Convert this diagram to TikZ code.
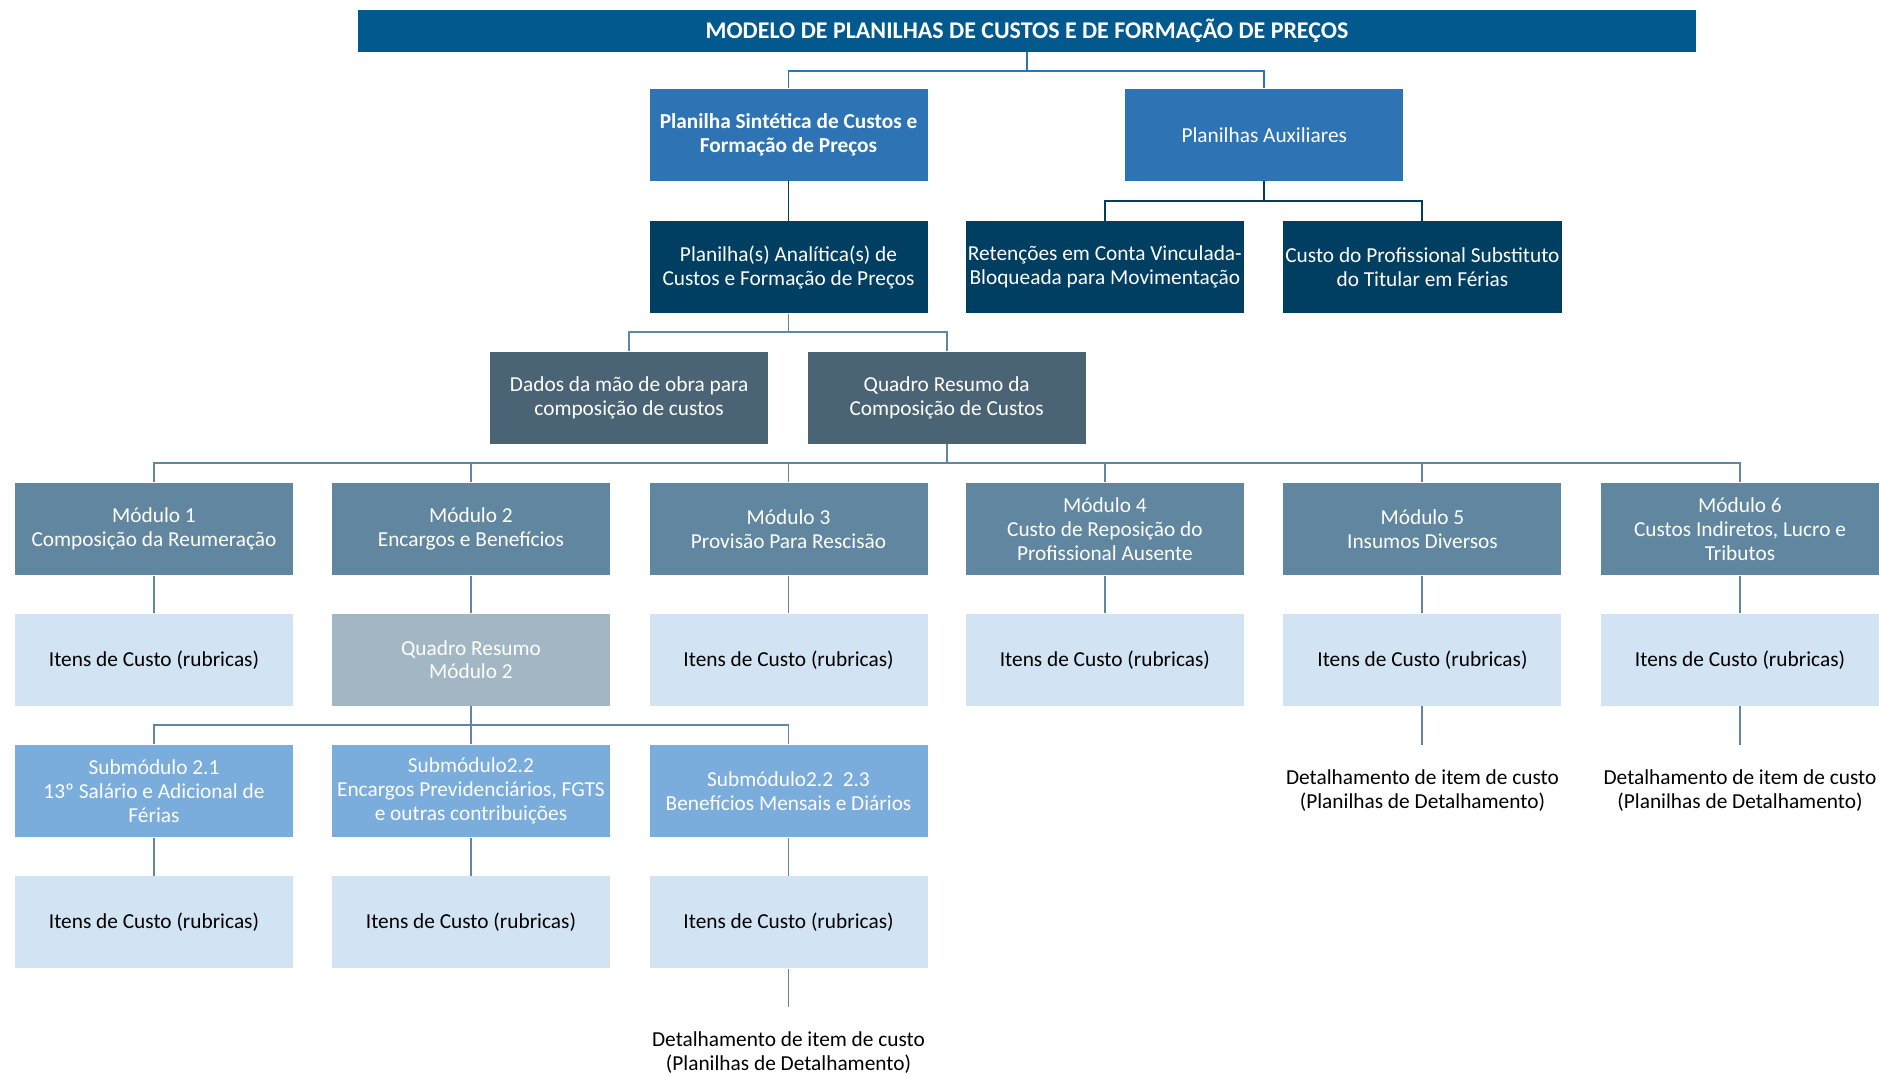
\documentclass[tikz,border=0pt]{standalone}
\usepackage{fontspec}
\setmainfont{Carlito}
\usepackage{tikz}
\usetikzlibrary{positioning}
\definecolor{titlecol}{RGB}{2,89,141}
\definecolor{sintcol}{RGB}{46,116,181}
\definecolor{darkcol}{RGB}{0,63,98}
\definecolor{slatecol}{RGB}{74,100,118}
\definecolor{modcol}{RGB}{97,135,160}
\definecolor{itemcol}{RGB}{210,227,243}
\definecolor{quadrocol}{RGB}{162,182,196}
\definecolor{subcol}{RGB}{122,172,220}

\begin{document}
\begin{tikzpicture}[
x=0.5pt,y=-0.5pt,
MyBoxes/.style={minimum width=116pt,minimum height=38.5pt,inner sep=1pt,align=center,
  text=white,font=\fontsize{8.9}{10}\selectfont},
Titulo/.style={MyBoxes,fill=titlecol,minimum width=558pt,minimum height=17.5pt,
  font=\bfseries\fontsize{10}{12}\selectfont},
Sintetica/.style={MyBoxes,fill=sintcol},
Analitica/.style={MyBoxes,fill=darkcol},
Quadros/.style={MyBoxes,fill=slatecol},
Modulos/.style={MyBoxes,fill=modcol},
Itens/.style={MyBoxes,fill=itemcol,text=black},
Submodulos/.style={MyBoxes,fill=subcol},
Detalhe/.style={align=center,inner sep=0pt,font=\fontsize{8.9}{10}\selectfont},
Segments/.style={draw=modcol,line width=0.8pt},
]
\useasboundingbox (0,0) rectangle (1568,897);

% topo
\node[Titulo] (titulo) at (857,25.5) {MODELO DE PLANILHAS DE CUSTOS E DE FORMAÇÃO DE PREÇOS};
\node[Sintetica,font=\bfseries\fontsize{8.9}{10}\selectfont] (sint) at (658,112.5) {Planilha Sintética de Custos e\\Formação de Preços};
\node[Sintetica] (aux) at (1055,112.5) {Planilhas Auxiliares};

\node[Analitica] (anal) at (658,223) {Planilha(s) Analítica(s) de\\Custos e Formação de Preços};
\node[Analitica] (ret) at (922,223) {Retenções em Conta Vinculada-\\Bloqueada para Movimentação};
\node[Analitica] (subst) at (1187,223) {Custo do Profissional Substituto\\do Titular em Férias};

\node[Quadros] (dados) at (525,332) {Dados da mão de obra para\\composição de custos};
\node[Quadros] (quadro) at (790,332) {Quadro Resumo da\\Composição de Custos};

% modulos
\node[Modulos] (mod1) at (128.5,441.5) {Módulo 1\\Composição da Reumeração};
\node[Modulos] (mod2) at (393,441.5) {Módulo 2\\Encargos e Benefícios};
\node[Modulos] (mod3) at (658,441.5) {Módulo 3\\Provisão Para Rescisão};
\node[Modulos] (mod4) at (922,441.5) {Módulo 4\\Custo de Reposição do\\Profissional Ausente};
\node[Modulos] (mod5) at (1187,441.5) {Módulo 5\\Insumos Diversos};
\node[Modulos] (mod6) at (1452,441.5) {Módulo 6\\Custos Indiretos, Lucro e\\Tributos};

\node[Itens] (it1) at (128.5,550.5) {Itens de Custo (rubricas)};
\node[MyBoxes,fill=quadrocol] (qr2) at (393,550.5) {Quadro Resumo\\Módulo 2};
\node[Itens] (it3) at (658,550.5) {Itens de Custo (rubricas)};
\node[Itens] (it4) at (922,550.5) {Itens de Custo (rubricas)};
\node[Itens] (it5) at (1187,550.5) {Itens de Custo (rubricas)};
\node[Itens] (it6) at (1452,550.5) {Itens de Custo (rubricas)};

% submodulos do modulo 2
\node[Submodulos] (sub1) at (128.5,660) {Submódulo 2.1\\13º Salário e Adicional de\\Férias};
\node[Submodulos] (sub2) at (393,660) {Submódulo2.2\\Encargos Previdenciários, FGTS\\e outras contribuições};
\node[Submodulos] (sub3) at (658,660) {Submódulo2.2~~2.3\\Benefícios Mensais e Diários};

\node[Itens] (its1) at (128.5,769.5) {Itens de Custo (rubricas)};
\node[Itens] (its2) at (393,769.5) {Itens de Custo (rubricas)};
\node[Itens] (its3) at (658,769.5) {Itens de Custo (rubricas)};

\node[Detalhe] (det3) at (658,878) {Detalhamento de item de custo\\(Planilhas de Detalhamento)};
\node[Detalhe] (det5) at (1187,660) {Detalhamento de item de custo\\(Planilhas de Detalhamento)};
\node[Detalhe] (det6) at (1452,660) {Detalhamento de item de custo\\(Planilhas de Detalhamento)};

% barras
\coordinate (b1) at (857,59);
\coordinate (b2) at (1055,168);
\coordinate (b3) at (658,277);
\coordinate (b4) at (790,386);
\coordinate (b5) at (393,605);

\draw[Segments,draw=sintcol] (titulo.south) -- (b1) -| (sint.north);
\draw[Segments,draw=sintcol] (b1) -| (aux.north);
\draw[Segments,draw=darkcol] (sint.south) -- (anal.north);
\draw[Segments,draw=darkcol] (aux.south) -- (b2) -| (ret.north);
\draw[Segments,draw=darkcol] (b2) -| (subst.north);

\draw[Segments] (anal.south) -- (b3) -| (dados.north);
\draw[Segments] (b3) -| (quadro.north);

\draw[Segments] (quadro.south) -- (b4);
\foreach \m in {1,...,6}
  \draw[Segments] (b4) -| (mod\m.north);
\draw[Segments] (mod1.south) -- (it1.north);
\draw[Segments] (mod2.south) -- (qr2.north);
\foreach \m in {3,...,6}
  \draw[Segments] (mod\m.south) -- (it\m.north);

\draw[Segments] (qr2.south) -- (b5);
\foreach \s in {1,2,3}{
  \draw[Segments] (b5) -| (sub\s.north);
  \draw[Segments] (sub\s.south) -- (its\s.north);
}

% detalhamento
\draw[Segments] (its3.south) -- ++(0,32);
\draw[Segments] (it5.south) -- ++(0,32);
\draw[Segments] (it6.south) -- ++(0,32);

\end{tikzpicture}
\end{document}
